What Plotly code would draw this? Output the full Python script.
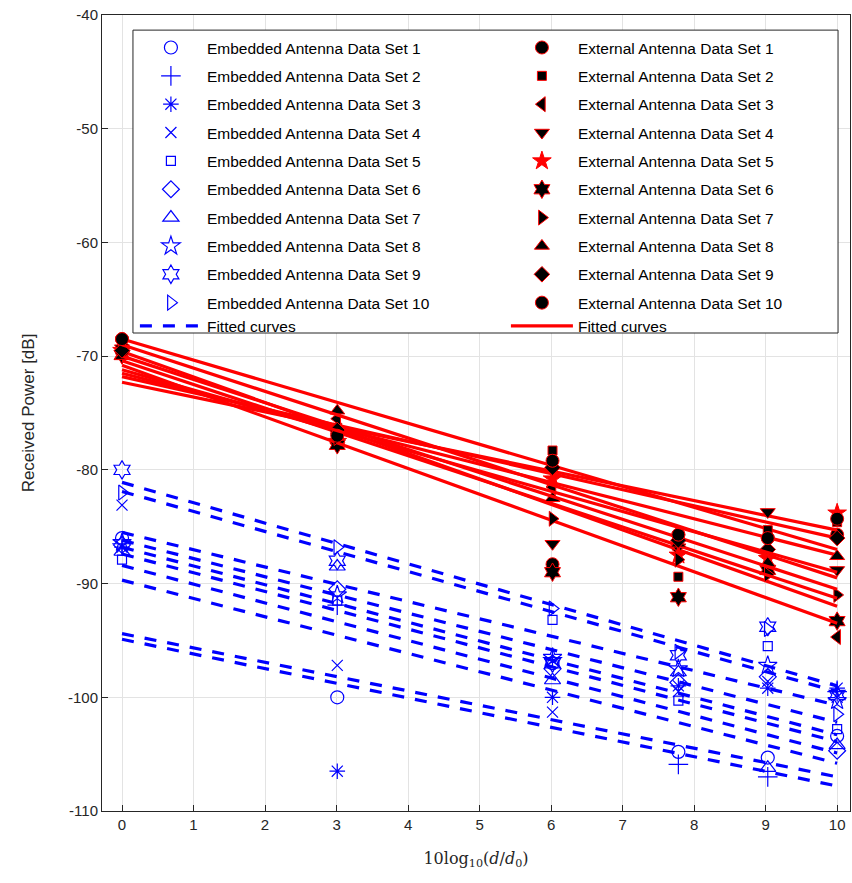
import plotly.graph_objects as go

# Normalised distance 10*log10(d/d0) for d/d0 = 1, 2, 4, 6, 8, 10
x_vals = [0, 3.01, 6.02, 7.78, 9.03, 10]

# Embedded antenna measurements [dB]
emb_1 = [-86.0, -100.0, -97.0, -104.8, -105.3, -103.4]
emb_2 = [-86.5, -91.9, -96.5, -105.9, -107.0, -99.5]
emb_3 = [-86.8, -106.5, -100.0, -99.0, -99.2, -99.2]
emb_4 = [-83.1, -97.2, -101.3, -99.5, -98.6, -100.0]
emb_5 = [-87.9, -91.5, -93.2, -100.3, -95.5, -102.8]
emb_6 = [-86.6, -90.5, -97.5, -98.7, -98.2, -104.7]
emb_7 = [-87.2, -88.5, -98.5, -97.8, -106.2, -104.2]
emb_8 = [-86.4, -91.0, -96.5, -97.5, -97.2, -100.3]
emb_9 = [-80.0, -88.0, -97.0, -96.3, -93.8, -99.8]
emb_10 = [-82.0, -86.8, -92.2, -96.0, -94.0, -101.5]

# External antenna measurements [dB]
ext_1 = [-68.5, -76.8, -88.3, -85.7, -86.0, -85.7]
ext_2 = [-69.0, -76.3, -78.3, -89.4, -85.3, -84.6]
ext_3 = [-69.8, -75.5, -81.5, -87.0, -88.5, -94.7]
ext_4 = [-69.3, -77.9, -86.5, -86.8, -83.7, -88.8]
ext_5 = [-69.5, -77.5, -80.8, -87.5, -87.8, -83.8]
ext_6 = [-69.9, -77.8, -89.0, -91.2, -88.8, -93.3]
ext_7 = [-69.0, -77.2, -84.3, -87.9, -89.2, -91.0]
ext_8 = [-70.0, -74.8, -82.5, -86.5, -88.2, -87.6]
ext_9 = [-69.5, -76.5, -79.8, -86.2, -87.0, -86.0]
ext_10 = [-68.5, -77.0, -79.2, -85.7, -86.0, -84.3]

# Fitted path-loss lines: value at x = 0 and at x = 10
fit_x = [0, 10]
emb_fit_at_0 = [-89.7, -88.4, -94.9, -94.4, -85.5, -87.4, -86.8, -86.2, -81.1, -81.9]
emb_fit_at_10 = [-105.8, -104.9, -107.8, -107.0, -100.7, -103.9, -103.3, -102.2, -99.0, -99.5]
ext_fit_at_0 = [-68.5, -72.3, -69.6, -71.8, -71.5, -70.8, -70.4, -70.0, -69.0, -71.2]
ext_fit_at_10 = [-87.0, -85.3, -92.0, -86.0, -87.5, -93.5, -91.3, -90.5, -89.5, -89.0]

x_ticks = list(range(0, 11))
y_ticks = list(range(-110, -30, 10))
y_tick_text = [str(v) for v in y_ticks]  # plain hyphen-minus labels

emb_sets = [emb_1, emb_2, emb_3, emb_4, emb_5, emb_6, emb_7, emb_8, emb_9, emb_10]
ext_sets = [ext_1, ext_2, ext_3, ext_4, ext_5, ext_6, ext_7, ext_8, ext_9, ext_10]

emb_symbols = ["circle-open", "cross-thin-open", "asterisk-open", "x-thin-open",
               "square-open", "diamond-open", "triangle-up-open", "star-open",
               "hexagram-open", "triangle-right-open"]
emb_sizes = [13, 14, 13, 11, 9, 13, 14, 14, 14, 13]

ext_symbols = ["circle", "square", "triangle-left", "triangle-down", "star",
               "hexagram", "triangle-right", "triangle-up", "diamond", "circle"]
ext_sizes = [13, 9, 13, 13, 14, 14, 13, 13, 12, 13]
ext_fill = ["black"] * 4 + ["#ff0000"] + ["black"] * 5

BLUE = "#0000ff"
RED = "#ff0000"

fig = go.Figure()

for i, vals in enumerate(emb_sets):
    grp = f"e{i + 1}"
    fig.add_trace(go.Scatter(
        x=x_vals, y=vals, mode="markers",
        name=f"Embedded Antenna Data Set {i + 1}",
        legend="legend", legendgroup=grp,
        marker=dict(symbol=emb_symbols[i], size=emb_sizes[i], color=BLUE,
                    line=dict(color=BLUE, width=1.2)),
    ))
    fig.add_trace(go.Scatter(
        x=fit_x, y=[emb_fit_at_0[i], emb_fit_at_10[i]], mode="lines",
        name="Fitted curves", legend="legend", legendgroup=grp,
        showlegend=(i == len(emb_sets) - 1),
        line=dict(color=BLUE, width=3.2, dash="12px,11px"),
    ))

for i, vals in enumerate(ext_sets):
    grp = f"x{i + 1}"
    fig.add_trace(go.Scatter(
        x=x_vals, y=vals, mode="markers",
        name=f"External Antenna Data Set {i + 1}",
        legend="legend2", legendgroup=grp,
        marker=dict(symbol=ext_symbols[i], size=ext_sizes[i], color=ext_fill[i],
                    line=dict(color=RED, width=1)),
    ))
    fig.add_trace(go.Scatter(
        x=fit_x, y=[ext_fit_at_0[i], ext_fit_at_10[i]], mode="lines",
        name="Fitted curves", legend="legend2", legendgroup=grp,
        showlegend=(i == len(ext_sets) - 1),
        line=dict(color=RED, width=3.2),
    ))

axis_col = "#262626"
grid_col = "#e3e3e3"
tick_font = dict(family="Liberation Sans, Arial, sans-serif", size=15, color=axis_col)
legend_font = dict(family="Liberation Sans, Arial, sans-serif", size=15.5, color="black")

fig.update_layout(
    width=852, height=883,
    margin=dict(l=102, r=2, t=15, b=72),
    paper_bgcolor="white", plot_bgcolor="white",
    font=dict(family="Liberation Sans, Arial, sans-serif", size=14, color="black"),
    xaxis=dict(
        range=[-0.28, 10.18], tickvals=x_ticks, showgrid=True, gridcolor=grid_col,
        zeroline=False, showline=True, linecolor=axis_col, linewidth=1, mirror=True,
        ticks="inside", ticklen=6, tickcolor=axis_col, tickfont=tick_font,
        title=dict(text="10log<sub>10</sub>(<i>d</i>/<i>d</i><sub>0</sub>)",
                   font=dict(family="DejaVu Serif, Liberation Serif, serif", size=16,
                             color=axis_col), standoff=20),
    ),
    yaxis=dict(
        range=[-110, -40], tickvals=y_ticks, ticktext=y_tick_text, showgrid=True,
        gridcolor=grid_col,
        zeroline=False, showline=True, linecolor=axis_col, linewidth=1, mirror=True,
        ticks="inside", ticklen=6, tickcolor=axis_col, tickfont=tick_font,
        title=dict(text="Received Power [dB]",
                   font=dict(family="Liberation Sans, Arial, sans-serif", size=17,
                             color=axis_col), standoff=29),
    ),
    legend=dict(
        x=0.044, y=0.980, xanchor="left", yanchor="top",
        bgcolor="rgba(0,0,0,0)", borderwidth=0, itemwidth=62,
        traceorder="grouped", tracegroupgap=5.2,
        font=legend_font, itemclick=False, itemdoubleclick=False,
    ),
    legend2=dict(
        x=0.540, y=0.980, xanchor="left", yanchor="top",
        bgcolor="rgba(0,0,0,0)", borderwidth=0, itemwidth=62,
        traceorder="grouped", tracegroupgap=5.2,
        font=legend_font, itemclick=False, itemdoubleclick=False,
    ),
    shapes=[dict(
        type="rect", xref="paper", yref="paper",
        x0=0.0414, x1=0.984, y0=0.6005, y1=0.981,
        fillcolor="white", line=dict(color=axis_col, width=1), layer="above",
    )],
)

fig.write_html("out.html")
